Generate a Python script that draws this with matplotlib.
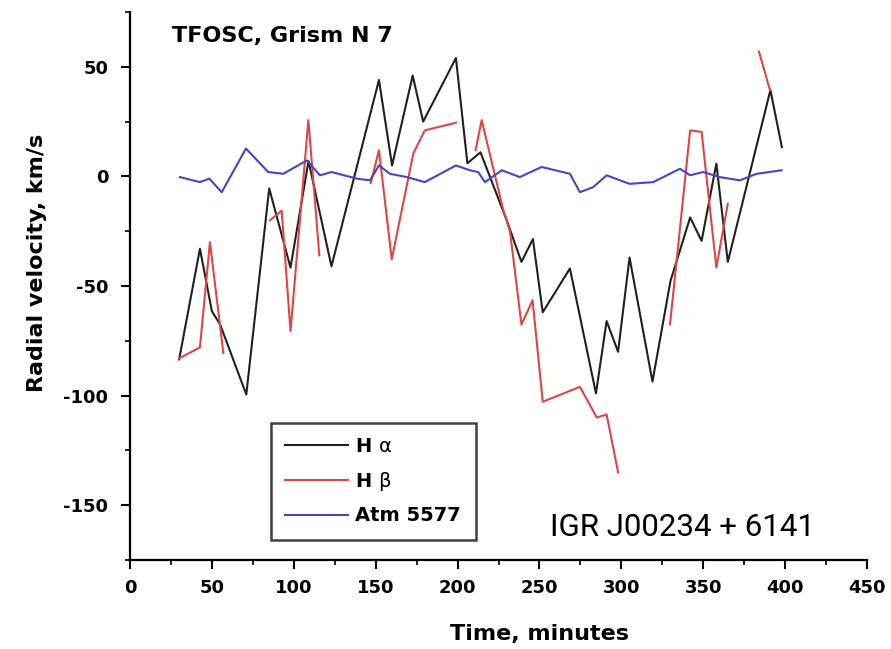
import numpy as np
import matplotlib.pyplot as plt

plt.rcParams['axes.unicode_minus'] = False

# H alpha
ha_t = [30, 42.7, 50, 55, 71, 85, 98, 109, 123, 152, 160, 172.6, 179, 199, 206, 214,
        230, 239, 246, 252, 268.6, 284.5, 291, 298, 305, 319, 330, 342, 349, 358, 365, 391, 398]
ha_v = [-83.5, -33, -61.5, -67.5, -99.5, -5.5, -41.6, 7, -41, 44, 5, 46, 25, 54, 6, 11,
        -20, -39, -28.6, -62, -42, -99, -66, -80, -37, -93.6, -47.7, -18.7, -29.4, 5.8, -39, 39.4, 13.4]

# H beta (several separate pieces)
hb_pieces = [
    ([30, 42.7, 48.8, 57], [-83, -78, -30, -80.6]),
    ([85.5, 92.6, 98, 108.9, 115.6], [-20, -15.6, -70.6, 25.7, -36]),
    ([147, 152, 159.8, 173, 180, 199], [-3, 12, -37.8, 10.5, 21, 24.5]),
    ([211, 214.7, 228, 232, 239, 245.8, 252, 274.7, 285, 291, 298],
     [12, 25.7, -15.6, -25, -67.6, -56.5, -102.8, -96, -110, -108.6, -135]),
    ([329.7, 342, 349, 358, 365], [-67.5, 21, 20.3, -41.6, -12.5]),
    ([384, 390.7], [57, 39.4]),
]

# Atm 5577
atm_t = [30.5, 42.7, 48.4, 56, 70.8, 84.4, 93.6, 108, 116, 123, 138.4, 146.5, 152, 158.7,
         169, 180, 199, 207.6, 212.6, 216.7, 227, 238, 251.3, 268.6, 274.7, 282.8, 291,
         305, 319.5, 335.8, 342, 350, 360, 372.4, 382.6, 397.8]
atm_v = [-0.3, -2.6, -1, -7.2, 12.7, 2, 1.2, 7.3, 0.5, 2, -1, -1.8, 5, 1.2,
         -0.3, -2.6, 5, 2.8, 2, -2.6, 2.8, -0.3, 4.3, 1.2, -7.2, -4.9, 0.5,
         -3.4, -2.6, 3.5, 0.5, 2, -0.3, -1.8, 1.2, 2.8]

fig = plt.figure(figsize=(8.91, 6.49), dpi=100)
ax = fig.add_axes([0.1459, 0.1371, 0.8272, 0.8444])

red = '#e04444'
blue = '#4444c8'
ax.plot(ha_t, ha_v, color='#202020', lw=1.5, label=r'H $\mathrm{\alpha}$')
for i, (t, v) in enumerate(hb_pieces):
    ax.plot(t, v, color=red, lw=1.5, label=r'H $\mathrm{\beta}$' if i == 0 else None)
ax.plot(atm_t, atm_v, color=blue, lw=1.5, label='Atm 5577')

ax.set_xlim(0, 450)
ax.set_ylim(-175, 75)
ax.set_xticks(np.arange(0, 451, 50))
ax.set_xticks(np.arange(0, 451, 25), minor=True)
ax.set_yticks([-150, -100, -50, 0, 50])
ax.set_yticks(np.arange(-175, 76, 25), minor=True)
ax.spines['top'].set_visible(False)
ax.spines['right'].set_visible(False)
ax.spines['left'].set_linewidth(1.6)
ax.spines['bottom'].set_linewidth(1.6)
ax.tick_params(which='major', length=6.5, width=1.5, direction='out')
ax.tick_params(which='minor', length=3.5, width=1.2, direction='out')
ax.tick_params(axis='x', which='major', pad=7)
ax.tick_params(axis='y', which='major', pad=9)
for lab in ax.get_xticklabels() + ax.get_yticklabels():
    lab.set_fontweight('bold')
    lab.set_fontsize(13)

ax.set_xlabel('Time, minutes', fontsize=16, fontweight='bold')
ax.set_ylabel('Radial velocity, km/s', fontsize=16, fontweight='bold')
ax.xaxis.set_label_coords(0.556, -0.117)
ax.yaxis.set_label_coords(-0.113, 0.543)

ax.text(0.057, 0.945, 'TFOSC, Grism N 7', transform=ax.transAxes, fontsize=16,
        fontweight='bold', va='baseline')
ax.text(0.570, 0.044, 'IGR J00234 + 6141', transform=ax.transAxes, fontsize=22.5,
        family=['Roboto', 'DejaVu Sans'], va='baseline')

leg = ax.legend(loc='lower left', bbox_to_anchor=(0.191, 0.0365), borderaxespad=0,
                prop={'weight': 'bold', 'size': 14}, fancybox=False, framealpha=1,
                handlelength=3.2, handletextpad=0.4, borderpad=0.75, labelspacing=0.7)
leg.get_frame().set_edgecolor('#404040')
leg.get_frame().set_linewidth(1.8)

fig.savefig('out.png', dpi=100)
